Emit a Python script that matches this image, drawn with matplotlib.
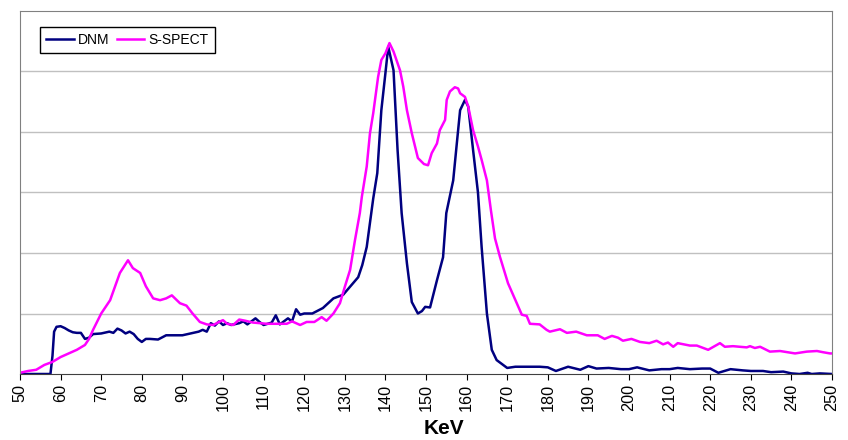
import numpy as np
import matplotlib.pyplot as plt

plt.rcParams['font.family'] = ['Liberation Sans', 'DejaVu Sans']

# DNM spectrum (keV, counts in arbitrary units)
dnm_kev = [50, 54, 57.5, 58, 58.4, 59, 60, 61, 62, 63, 64, 65, 66, 67, 68, 70, 72, 73,
           74, 75, 76, 77, 78, 79, 80, 81, 82, 84, 86, 88, 90, 92, 94, 95, 96, 97,
           98, 99, 100, 101, 102, 104, 105, 106, 108, 109, 110, 112, 113, 114, 116,
           117, 118, 119, 120, 122, 124.6, 127.2, 129.6, 131, 133.3, 134.3, 135.4, 137,
           138, 139, 140, 140.7, 142, 143, 144, 145.3, 146.5, 148, 149, 149.8, 151,
           152.7, 154.2, 155, 156.7, 157.5, 158.4, 159.6, 160.4, 161.6, 162.8,
           163.7, 165, 166.2, 167.4, 170, 172, 175, 178, 180, 182, 185, 188, 190,
           192, 195, 198, 200, 202, 205, 208, 210, 212, 215, 218, 220, 222, 225,
           228, 230, 233, 235, 238, 240, 242, 244, 245, 247, 250]
dnm_val = [0.0, 0.0, 0.0, 0.3, 0.7, 0.78, 0.79, 0.76, 0.72, 0.69, 0.68, 0.68, 0.58,
           0.6, 0.66, 0.67, 0.70, 0.68, 0.75, 0.72, 0.67, 0.70, 0.66, 0.58, 0.53,
           0.58, 0.58, 0.57, 0.64, 0.64, 0.64, 0.67, 0.70, 0.73, 0.70, 0.84, 0.80,
           0.87, 0.81, 0.84, 0.81, 0.84, 0.87, 0.82, 0.92, 0.86, 0.81, 0.85, 0.97,
           0.82, 0.92, 0.87, 1.07, 0.98, 1.0, 1.0, 1.09, 1.25, 1.31, 1.42, 1.6, 1.8,
           2.1, 2.9, 3.32, 4.36, 4.97, 5.41, 5.02, 3.70, 2.66, 1.83, 1.19, 1.0, 1.04,
           1.11, 1.10, 1.55, 1.93, 2.66, 3.2, 3.75, 4.36, 4.53, 4.42, 3.70, 3.0,
           2.1, 1.0, 0.4, 0.23, 0.1, 0.12, 0.12, 0.12, 0.11, 0.05, 0.12, 0.07, 0.13,
           0.09, 0.1, 0.08, 0.08, 0.11, 0.06, 0.08, 0.08, 0.1, 0.08, 0.09, 0.09,
           0.02, 0.08, 0.06, 0.05, 0.05, 0.03, 0.04, 0.01, 0.0, 0.02, 0.0, 0.01, 0.0]

# S-SPECT spectrum
sp_kev = [50, 52, 54, 56, 58, 60, 62, 64, 66, 67, 68, 70, 72.2, 74.6, 76.6, 77.8,
          79.6, 81, 82.8, 84.5, 86, 87.4, 89.4, 91, 92.5, 94.3, 96, 97.6, 99, 100,
          101, 102.5, 104, 105.5, 107.4, 109, 110.8, 113, 115.7, 117, 118, 119, 120.6,
          122.5, 124.3, 125.5, 127.2, 128.8, 130, 131.3, 132.5, 133.7, 134.2, 135.4,
          136.2, 137, 138.2, 139, 140, 141, 142, 143.6, 144.4, 145.3, 146.5, 148,
          149.5, 150.5, 151.4, 152.7, 153.4, 154.7, 155.1, 155.9, 157.1, 157.9,
          158.4, 159.6, 160.4, 161.6, 162.8, 163.7, 165, 166, 167, 168.2, 170.2,
          172.3, 173.6, 174.8, 175.6, 178, 179.7, 180.5, 183, 184.7, 187, 189.6,
          192.3, 194, 195.8, 197.3, 198.5, 200.6, 202.7, 205, 206.8, 208.4, 209.6,
          210.9, 212, 215, 216.7, 219.5, 222.4, 223.6, 225.6, 229, 229.8, 231,
          232.3, 234.7, 237.2, 240.9, 243.8, 246.3, 247.8, 249.5, 250]
sp_val = [0.02, 0.05, 0.07, 0.15, 0.2, 0.28, 0.34, 0.40, 0.48, 0.58, 0.73, 1.0,
          1.22, 1.67, 1.88, 1.75, 1.67, 1.45, 1.25, 1.22, 1.25, 1.30, 1.17, 1.13,
          1.0, 0.86, 0.82, 0.81, 0.86, 0.89, 0.83, 0.81, 0.9, 0.88, 0.85, 0.84,
          0.83, 0.83, 0.83, 0.87, 0.84, 0.81, 0.86, 0.86, 0.94, 0.88, 1.0, 1.17,
          1.44, 1.72, 2.21, 2.66, 2.93, 3.43, 3.98, 4.31, 4.91, 5.19, 5.3, 5.47,
          5.33, 5.02, 4.75, 4.36, 3.98, 3.57, 3.47, 3.45, 3.65, 3.81, 4.03, 4.2,
          4.53, 4.67, 4.74, 4.72, 4.64, 4.58, 4.42, 4.03, 3.76, 3.54, 3.2, 2.7,
          2.24, 1.94, 1.5, 1.18, 0.98, 0.96, 0.83, 0.82, 0.73, 0.70, 0.74, 0.68,
          0.70, 0.64, 0.64, 0.58, 0.63, 0.60, 0.55, 0.58, 0.53, 0.51, 0.55, 0.49,
          0.52, 0.45, 0.51, 0.47, 0.47, 0.40, 0.51, 0.45, 0.46, 0.44, 0.46, 0.43,
          0.45, 0.37, 0.38, 0.34, 0.37, 0.38, 0.36, 0.34, 0.34]

fig = plt.figure(figsize=(8.48, 4.4), dpi=100)
ax = fig.add_axes([20 / 848, 66 / 440, 812 / 848, 363 / 440])

ax.plot(dnm_kev, dnm_val, color='#000080', lw=1.8, label='DNM')
ax.plot(sp_kev, sp_val, color='#ff00ff', lw=1.8, label='S-SPECT')

ax.set_xlim(50, 250)
ax.set_ylim(0, 6)
ax.set_xticks(np.arange(50, 251, 10))
ax.tick_params(axis='x', labelrotation=90, labelsize=11.7, length=4, direction='out',
               pad=3)
ax.set_yticks([1, 2, 3, 4, 5])
ax.tick_params(axis='y', length=0, labelleft=False)
ax.grid(axis='y', color='#c0c0c0', lw=1)
ax.set_axisbelow(True)
for s in ['left', 'top', 'right']:
    ax.spines[s].set_color('#808080')
ax.spines['bottom'].set_color('#404040')
ax.set_xlabel('KeV', fontsize=15, fontweight='bold')
ax.xaxis.set_label_coords(424 / 812, -64 / 363)
ax.xaxis.label.set_va('bottom')

leg = ax.legend(loc='upper left', bbox_to_anchor=(20 / 812, 347 / 363), ncol=2,
                fontsize=10, frameon=True, fancybox=False, borderpad=0.45,
                handlelength=2.0, handletextpad=0.3, columnspacing=0.5,
                borderaxespad=0)
leg.get_frame().set_edgecolor('black')
leg.get_frame().set_linewidth(1)
leg.get_frame().set_alpha(1)

fig.savefig('out.png', dpi=100)
